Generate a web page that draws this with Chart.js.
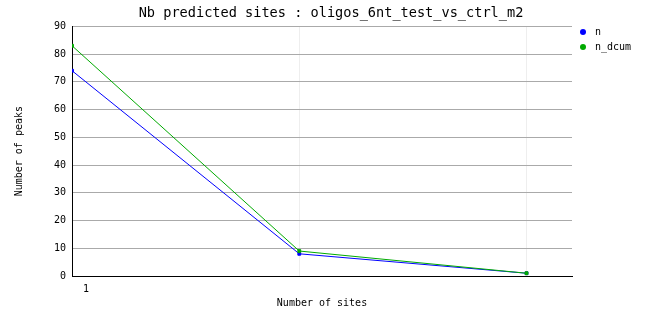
<!DOCTYPE html>
<html>
<head>
<meta charset="utf-8">
<script src="https://cdn.jsdelivr.net/npm/chart.js@4"></script>
<style>
  html, body { margin: 0; padding: 0; background: #fff; }
  #wrap { width: 662px; height: 328px; }
</style>
</head>
<body>
<div id="wrap"><canvas id="chart"></canvas></div>
<script>
const xValues = [1, 2, 3];
const xTickLabels = ['1', '', ''];
const nValues = [74, 8, 1];
const nDcumValues = [83, 9, 1];
const seriesNames = ['n', 'n_dcum'];
const seriesColors = ['#0000ff', '#00aa00'];

const mono = '"DejaVu Sans Mono", monospace';

// legend drawn by hand, top right like the original
const sideLegend = {
    id: 'sideLegend',
    afterDraw(chart) {
        const c = chart.ctx;
        c.save();
        c.font = '10px ' + mono;
        c.textBaseline = 'middle';
        chart.data.datasets.forEach((ds, i) => {
            const y = 32 + i * 15;
            c.fillStyle = ds.borderColor;
            c.beginPath();
            c.arc(583, y, 3, 0, Math.PI * 2);
            c.fill();
            c.fillStyle = '#000';
            c.fillText(ds.label, 595, y);
        });
        c.restore();
    }
};

const ctx = document.getElementById('chart').getContext('2d');
new Chart(ctx, {
    type: 'line',
    data: {
        datasets: [
            {
                label: seriesNames[0],
                data: xValues.map((x, i) => ({ x: x, y: nValues[i] })),
                borderColor: seriesColors[0],
                backgroundColor: seriesColors[0],
                borderWidth: 1,
                pointStyle: 'rect',
                pointRadius: 2,
                order: 1
            },
            {
                label: seriesNames[1],
                data: xValues.map((x, i) => ({ x: x, y: nDcumValues[i] })),
                borderColor: seriesColors[1],
                backgroundColor: seriesColors[1],
                borderWidth: 1,
                pointStyle: 'rect',
                pointRadius: 2,
                order: 0
            }
        ]
    },
    options: {
        responsive: true,
        maintainAspectRatio: false,
        animation: false,
        layout: { padding: 0 },
        plugins: {
            legend: { display: false },
            tooltip: { enabled: false },
            title: {
                display: true,
                text: 'Nb predicted sites : oligos_6nt_test_vs_ctrl_m2',
                color: '#000',
                font: { family: mono, size: 13.6, weight: 'normal' },
                padding: { top: 5, bottom: 5 }
            }
        },
        scales: {
            x: {
                type: 'linear',
                min: 1,
                max: 3.2,
                afterBuildTicks: s => { s.ticks = xValues.map(v => ({ value: v })); },
                afterFit: s => { s.height = 52; },
                ticks: {
                    color: '#000',
                    font: { family: mono, size: 10 },
                    padding: 7,
                    labelOffset: 14,
                    maxRotation: 0,
                    callback: (v, i) => xTickLabels[i]
                },
                grid: {
                    drawTicks: false,
                    color: ctx => ctx.index === 0 ? 'rgba(0,0,0,0)' : '#eeeeee'
                },
                border: { color: '#000', width: 1 },
                title: {
                    display: true,
                    text: 'Number of sites',
                    color: '#000',
                    font: { family: mono, size: 10 },
                    padding: { top: 0, bottom: 19 }
                }
            },
            y: {
                min: 0,
                max: 90,
                afterFit: s => { s.width = 72; },
                ticks: {
                    stepSize: 10,
                    color: '#000',
                    font: { family: mono, size: 10 },
                    padding: 6
                },
                grid: {
                    drawTicks: false,
                    color: '#aaaaaa'
                },
                border: { color: '#000', width: 1 },
                title: {
                    display: true,
                    text: 'Number of peaks',
                    color: '#000',
                    font: { family: mono, size: 10 },
                    padding: { top: 13, bottom: 0 }
                }
            },
            // empty axis that only reserves the space for the legend on the right
            yRight: {
                position: 'right',
                display: true,
                afterFit: s => { s.width = 90; },
                ticks: { display: false },
                grid: { display: false, drawTicks: false },
                border: { display: false }
            }
        }
    },
    plugins: [sideLegend]
});
</script>
</body>
</html>
